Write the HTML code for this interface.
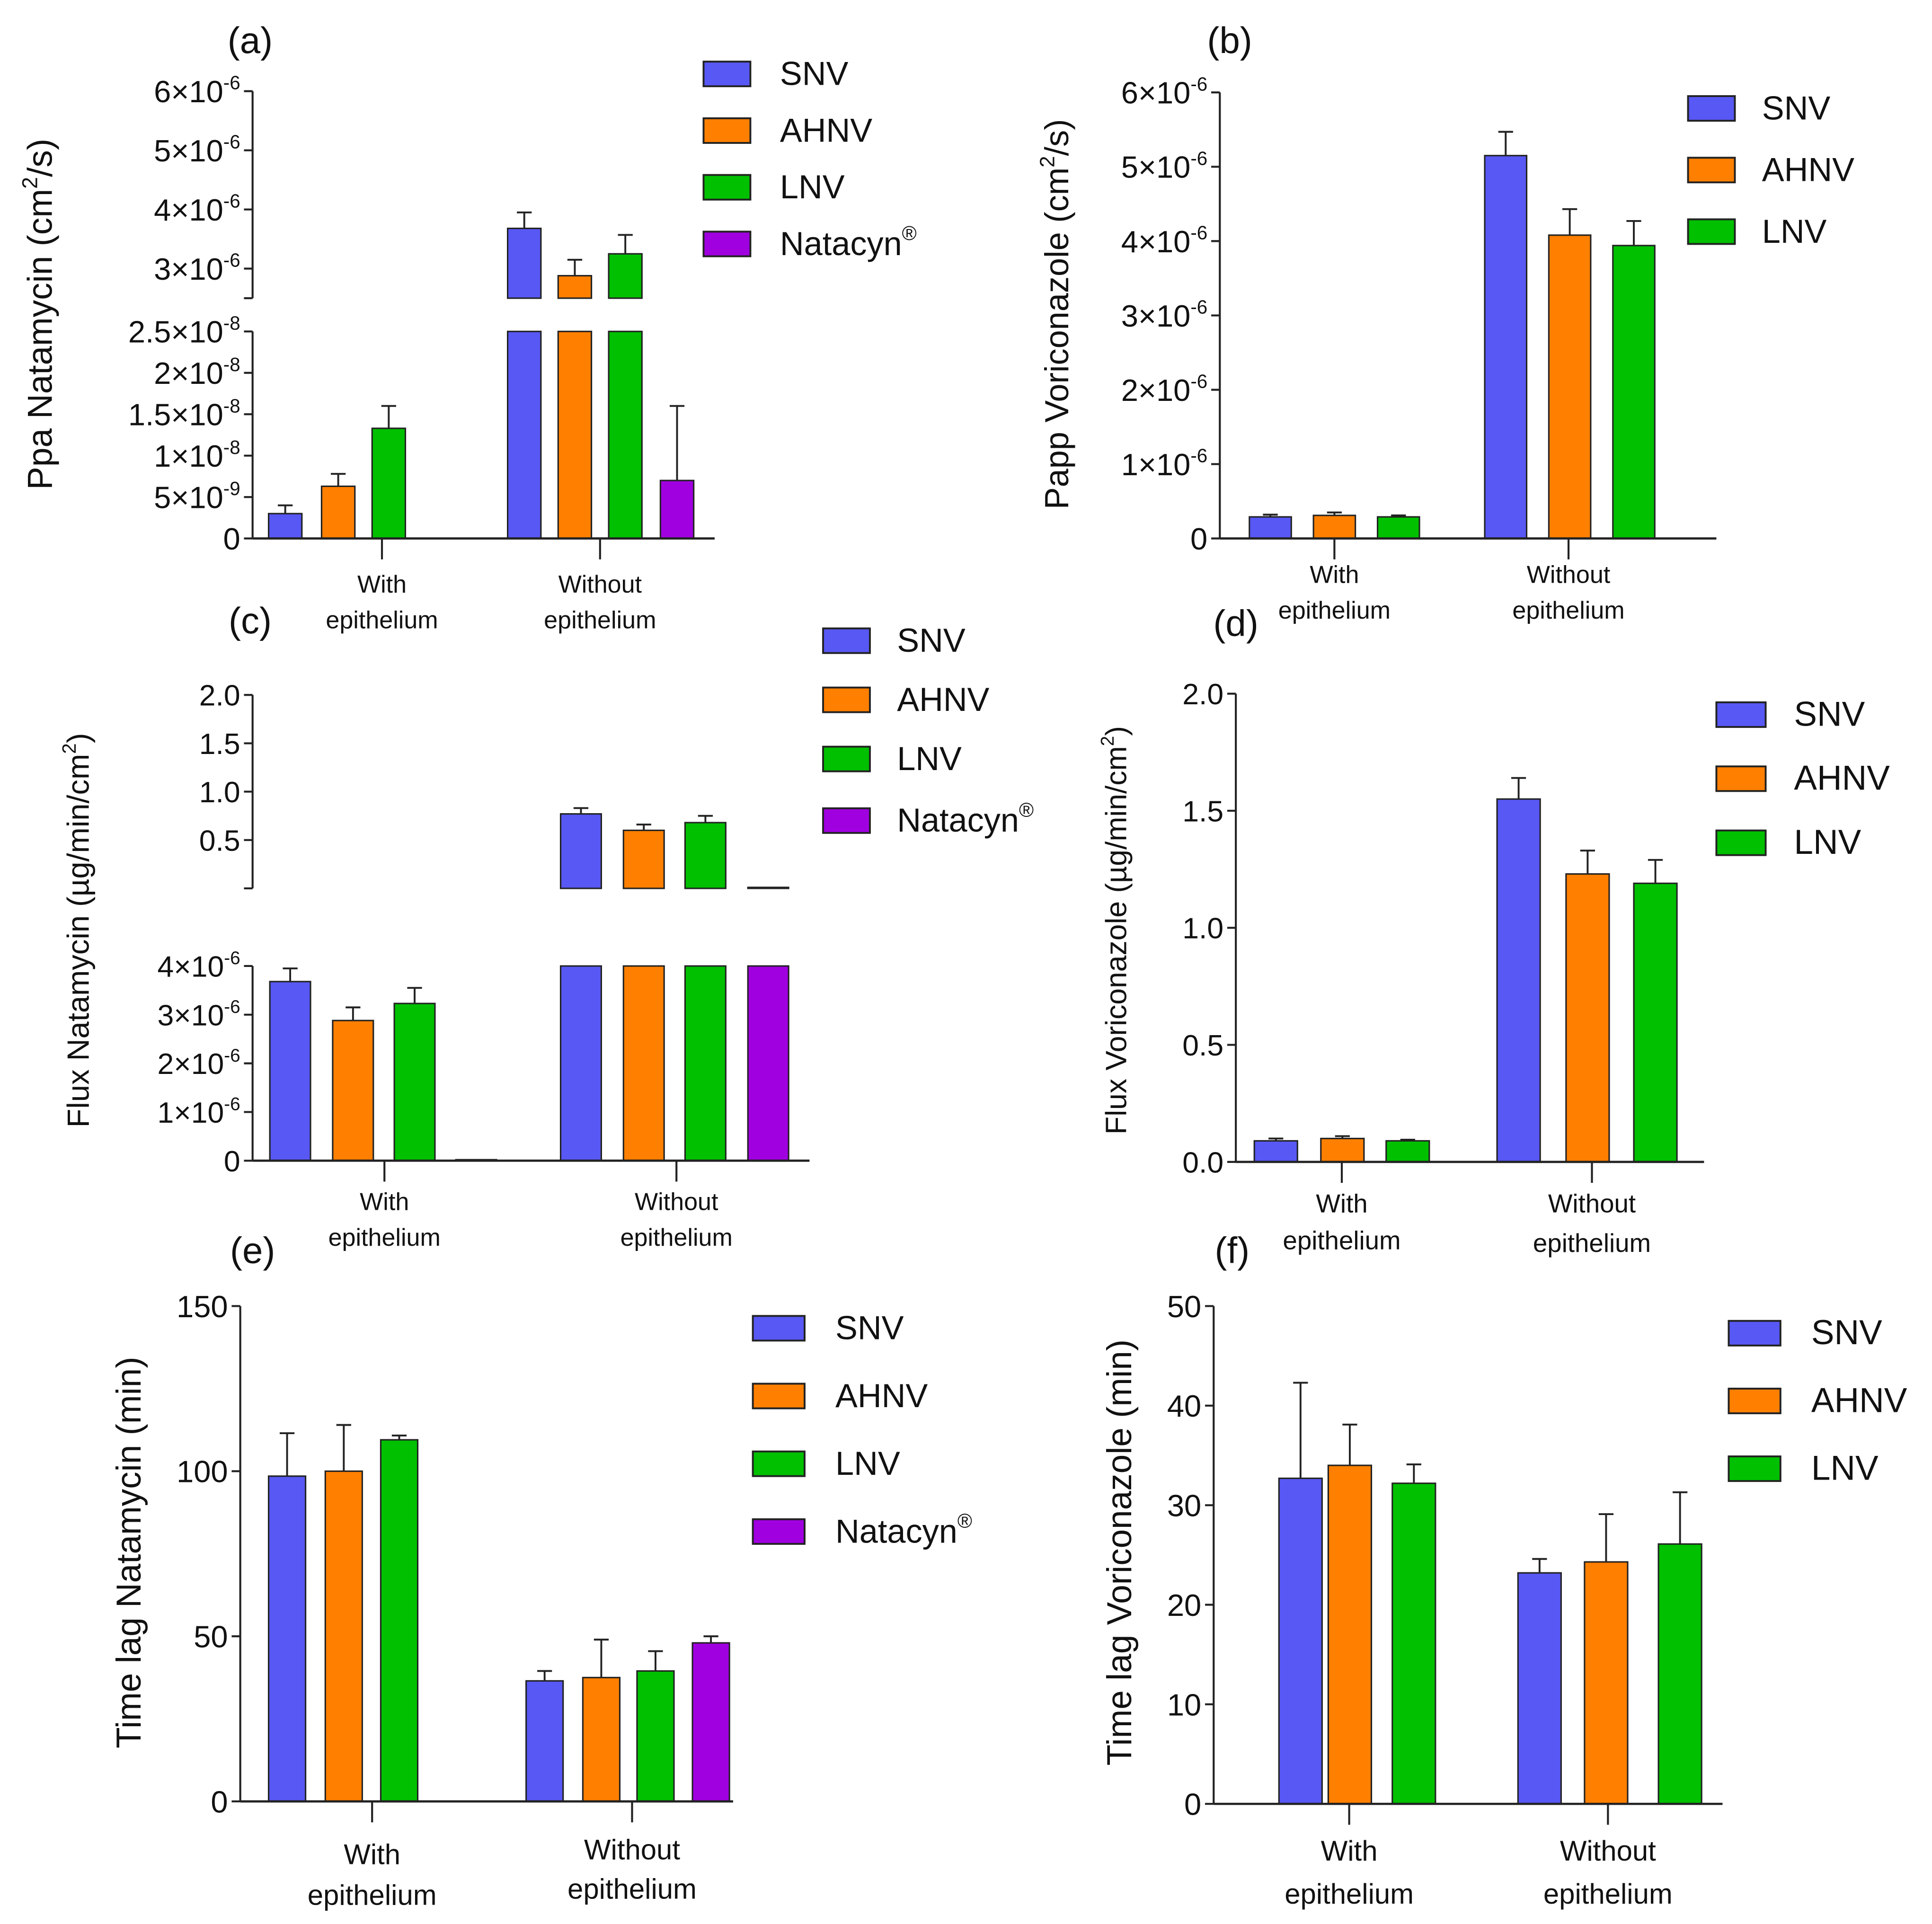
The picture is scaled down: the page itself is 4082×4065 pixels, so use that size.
<!DOCTYPE html>
<html><head><meta charset="utf-8"><style>
html,body{margin:0;padding:0;background:#fff;}
svg{display:block;}
text{font-family:"Liberation Sans",Arial,sans-serif;fill:#111;}
</style></head><body>
<svg id="fig" xmlns="http://www.w3.org/2000/svg" width="4082" height="4065" viewBox="0 0 1568 1561.5" preserveAspectRatio="none"></svg>
<script>
// ---- data ----
const groups = ["With|epithelium", "Without|epithelium"];
const seriesNames4 = ["SNV", "AHNV", "LNV", "Natacyn"];
const seriesNames3 = ["SNV", "AHNV", "LNV"];
// (a) Ppa Natamycin
const aValues = [[3e-9, 6.3e-9, 1.33e-8, null], [3.68e-6, 2.88e-6, 3.25e-6, 7e-9]];
const aErrors = [[4e-9, 7.8e-9, 1.6e-8, null], [3.95e-6, 3.15e-6, 3.57e-6, 1.6e-8]];
const aTicksUpper = [3e-6, 4e-6, 5e-6, 6e-6];
const aTickLabelsUpper = ["3×10^-6", "4×10^-6", "5×10^-6", "6×10^-6"];
const aTicksLower = [0, 5e-9, 1e-8, 1.5e-8, 2e-8, 2.5e-8];
const aTickLabelsLower = ["0", "5×10^-9", "1×10^-8", "1.5×10^-8", "2×10^-8", "2.5×10^-8"];
// (b) Papp Voriconazole
const bValues = [[0.29e-6, 0.31e-6, 0.29e-6], [5.15e-6, 4.08e-6, 3.94e-6]];
const bErrors = [[0.32e-6, 0.35e-6, 0.31e-6], [5.47e-6, 4.43e-6, 4.27e-6]];
const bTicks = [0, 1e-6, 2e-6, 3e-6, 4e-6, 5e-6, 6e-6];
const bTickLabels = ["0", "1×10^-6", "2×10^-6", "3×10^-6", "4×10^-6", "5×10^-6", "6×10^-6"];
// (c) Flux Natamycin
const cValues = [[3.68e-6, 2.88e-6, 3.23e-6, 0.02e-6], [0.77, 0.60, 0.68, 0.003]];
const cErrors = [[3.95e-6, 3.15e-6, 3.55e-6, 0], [0.83, 0.66, 0.75, 0]];
const cTicksUpper = [0.5, 1.0, 1.5, 2.0];
const cTickLabelsUpper = ["0.5", "1.0", "1.5", "2.0"];
const cTicksLower = [0, 1e-6, 2e-6, 3e-6, 4e-6];
const cTickLabelsLower = ["0", "1×10^-6", "2×10^-6", "3×10^-6", "4×10^-6"];
// (d) Flux Voriconazole
const dValues = [[0.09, 0.10, 0.09], [1.55, 1.23, 1.19]];
const dErrors = [[0.10, 0.11, 0.095], [1.64, 1.33, 1.29]];
const dTicks = [0, 0.5, 1.0, 1.5, 2.0];
const dTickLabels = ["0.0", "0.5", "1.0", "1.5", "2.0"];
// (e) Time lag Natamycin
const eValues = [[98.5, 100, 109.5, null], [36.5, 37.5, 39.5, 48]];
const eErrors = [[111.5, 114, 110.8, null], [39.5, 49, 45.5, 50]];
const eTicks = [0, 50, 100, 150];
const eTickLabels = ["0", "50", "100", "150"];
// (f) Time lag Voriconazole
const fValues = [[32.7, 34, 32.2], [23.2, 24.3, 26.1]];
const fErrors = [[42.3, 38.1, 34.1], [24.6, 29.1, 31.3]];
const fTicks = [0, 10, 20, 30, 40, 50];
const fTickLabels = ["0", "10", "20", "30", "40", "50"];

const colors = ["#5858f4", "#ff7f00", "#00c000", "#a000e0"];
const NS = "http://www.w3.org/2000/svg";
const svg = document.getElementById("fig");

function el(tag, attrs, parent) {
  const e = document.createElementNS(NS, tag);
  for (const k in attrs) e.setAttribute(k, attrs[k]);
  (parent || svg).appendChild(e);
  return e;
}
function label(str, x, y, size, anchor, parent) {
  const t = el("text", {x: x, y: y, "font-size": size, "text-anchor": anchor}, parent);
  const parts = str.split("^");
  t.appendChild(document.createTextNode(parts[0]));
  if (parts[1]) {
    const s = el("tspan", {"font-size": size * 0.62, dy: -size * 0.42}, t);
    s.textContent = parts[1];
  }
  return t;
}

function panel(cfg) {
  const g = el("g", {});
  
  
  const ax = cfg.axisX;
  const segs = cfg.segs;
  function yOf(seg, v) { return seg.yLo + (v - seg.lo) / (seg.hi - seg.lo) * (seg.yHi - seg.yLo); }
  segs.forEach(function (seg) {
    const l = el("line", {x1: ax, x2: ax, y1: seg.yLo, y2: seg.yHi, stroke: "#222", "stroke-width": 1.6}, g);
    
    
    if (seg.capBottom) el("line", {x1: ax - 7, x2: ax, y1: seg.yLo, y2: seg.yLo, stroke: "#222", "stroke-width": 1.6}, g);
    seg.ticks.forEach(function (tv, i) {
      const y = yOf(seg, tv);
      el("line", {x1: ax - 7, x2: ax, y1: y, y2: y, stroke: "#222", "stroke-width": 1.6}, g);
      const t = label(seg.labels[i], ax - 10, y + cfg.tickFont * 0.36, cfg.tickFont, "end", g);
      
      
    });
  });
  const vals = cfg.values, errs = cfg.errors;
  vals.forEach(function (row, gi) {
    row.forEach(function (v, si) {
      if (v === null || v === undefined) return;
      const x0 = cfg.barX[gi][si], w = cfg.barW;
      const segList = cfg.barSeg ? cfg.barSeg[gi] : null;
      segs.forEach(function (seg, sIdx) {
        if (segList && segList.indexOf(sIdx) < 0) return;
        if (v <= seg.lo && seg.lo !== 0) return;
        const top = Math.min(v, seg.hi);
        const y1 = yOf(seg, top), y0 = yOf(seg, seg.lo);
        const h = Math.max(y0 - y1, 0.8);
        const r = el("rect", {x: x0, y: y0 - h, width: w, height: h, fill: colors[si], stroke: "#222", "stroke-width": 1.2}, g);
        
        
      });
      const ev = errs[gi][si];
      if (ev && ev > v) {
        const seg = segs.find(function (s) { return ev >= s.lo && ev <= s.hi && v <= s.hi; });
        if (seg && v >= seg.lo) {
          const xc = x0 + w / 2;
          const e = el("line", {x1: xc, x2: xc, y1: yOf(seg, v), y2: yOf(seg, ev), stroke: "#222", "stroke-width": 1.5}, g);
          
          
          el("line", {x1: xc - 6, x2: xc + 6, y1: yOf(seg, ev), y2: yOf(seg, ev), stroke: "#222", "stroke-width": 1.5}, g);
        }
      }
    });
  });
  const xa = el("line", {x1: ax, x2: cfg.axisEnd, y1: cfg.baseY, y2: cfg.baseY, stroke: "#222", "stroke-width": 1.8}, g);
  
  
  groups.forEach(function (gname, i) {
    const x = cfg.catX[i];
    el("line", {x1: x, x2: x, y1: cfg.baseY, y2: cfg.baseY + 17, stroke: "#222", "stroke-width": 1.6}, g);
    const p = gname.split("|");
    const t1 = el("text", {x: x, y: cfg.catY[i][0], "font-size": cfg.catFont, "text-anchor": "middle"}, g);
    t1.textContent = p[0];
    
    
    const t2 = el("text", {x: x, y: cfg.catY[i][1], "font-size": cfg.catFont, "text-anchor": "middle"}, g);
    t2.textContent = p[1];
    
    
  });
  const pl = el("text", {x: cfg.letter[1], y: cfg.letter[2], "font-size": 30, "text-anchor": "middle"}, g);
  pl.textContent = cfg.letter[0];
  
  
  const yt = el("text", {x: 0, y: 0, "font-size": cfg.titleFont, "text-anchor": "middle", transform: "translate(" + cfg.title[1] + "," + cfg.title[2] + ") rotate(-90)"}, g);
  const tp = cfg.title[0].split("^");
  yt.appendChild(document.createTextNode(tp[0]));
  if (tp.length > 1) {
    const sup = el("tspan", {"font-size": cfg.titleFont * 0.62, dy: -cfg.titleFont * 0.42}, yt);
    sup.textContent = "2";
    const rest = el("tspan", {dy: cfg.titleFont * 0.42}, yt);
    rest.textContent = tp[1];
  }
  
  
  cfg.series.forEach(function (s, i) {
    const ly = cfg.legend.y[i];
    const r = el("rect", {x: cfg.legend.x, y: ly, width: cfg.legend.w, height: 20, fill: colors[i], stroke: "#222", "stroke-width": 1.5}, g);
    
    
    const t = el("text", {x: cfg.legend.tx, y: ly + 19, "font-size": cfg.legend.font}, g);
    t.textContent = s;
    if (s === "Natacyn") {
      const rr = el("tspan", {"font-size": cfg.legend.font * 0.6, dy: -cfg.legend.font * 0.45}, t);
      rr.textContent = "®";
    }
    
    
  });
}

// (a)
panel({name: "panel-a", axisX: 205, axisEnd: 580, baseY: 437, tickFont: 25, catFont: 20, titleFont: 28,
  segs: [
    {lo: 0, hi: 2.5e-8, yLo: 437, yHi: 269, ticks: aTicksLower, labels: aTickLabelsLower},
    {lo: 2.5e-6, hi: 6e-6, yLo: 242, yHi: 74, ticks: aTicksUpper, labels: aTickLabelsUpper, capBottom: true}
  ],
  values: aValues, errors: aErrors, series: seriesNames4, barW: 27,
  barX: [[218, 261, 302, 344], [412, 453, 494, 536]],
  catX: [310, 487], catY: [[481, 510], [481, 510]],
  letter: ["(a)", 203, 43], title: ["Ppa Natamycin (cm^/s)", 42, 255],
  legend: {x: 571, w: 38, y: [50, 96, 142, 188], tx: 633, font: 27}
});
// (b)
panel({name: "panel-b", axisX: 990, axisEnd: 1393, baseY: 437, tickFont: 25, catFont: 20, titleFont: 27,
  segs: [{lo: 0, hi: 6e-6, yLo: 437, yHi: 75, ticks: bTicks, labels: bTickLabels}],
  values: bValues, errors: bErrors, series: seriesNames3, barW: 34,
  barX: [[1014, 1066, 1118], [1205, 1257, 1309]],
  catX: [1083, 1273], catY: [[473, 502], [473, 502]],
  letter: ["(b)", 998, 43], title: ["Papp Voriconazole (cm^/s)", 867, 255],
  legend: {x: 1370, w: 38, y: [78, 128, 178], tx: 1430, font: 27}
});
// (c)
panel({name: "panel-c", axisX: 205, axisEnd: 657, baseY: 942, tickFont: 24, catFont: 20, titleFont: 25,
  segs: [
    {lo: 0, hi: 4e-6, yLo: 942, yHi: 784, ticks: cTicksLower, labels: cTickLabelsLower},
    {lo: 0, hi: 2.0, yLo: 721, yHi: 564, ticks: cTicksUpper, labels: cTickLabelsUpper, capBottom: true}
  ],
  barSeg: [[0], [0, 1]],
  values: cValues, errors: cErrors, series: seriesNames4, barW: 33,
  barX: [[219, 270, 320, 370], [455, 506, 556, 607]],
  catX: [312, 549], catY: [[982, 1011], [982, 1011]],
  letter: ["(c)", 203, 514], title: ["Flux Natamycin (µg/min/cm^)", 72, 755],
  legend: {x: 668, w: 38, y: [510, 558, 606, 656], tx: 728, font: 27}
});
// (d)
panel({name: "panel-d", axisX: 1003, axisEnd: 1383, baseY: 943, tickFont: 24, catFont: 21, titleFont: 24,
  segs: [{lo: 0, hi: 2.0, yLo: 943, yHi: 563, ticks: dTicks, labels: dTickLabels}],
  values: dValues, errors: dErrors, series: seriesNames3, barW: 35,
  barX: [[1018, 1072, 1125], [1215, 1271, 1326]],
  catX: [1089, 1292], catY: [[984, 1014], [984, 1016]],
  letter: ["(d)", 1003, 516], title: ["Flux Voriconazole (µg/min/cm^)", 914, 755],
  legend: {x: 1393, w: 40, y: [570, 622, 674], tx: 1456, font: 28}
});
// (e)
panel({name: "panel-e", axisX: 195, axisEnd: 595, baseY: 1462, tickFont: 25, catFont: 23, titleFont: 28,
  segs: [{lo: 0, hi: 150, yLo: 1462, yHi: 1060, ticks: eTicks, labels: eTickLabels}],
  values: eValues, errors: eErrors, series: seriesNames4, barW: 30,
  barX: [[218, 264, 309, 355], [427, 473, 517, 562]],
  catX: [302, 513], catY: [[1513, 1546], [1509, 1541]],
  letter: ["(e)", 205, 1025], title: ["Time lag Natamycin (min)", 114, 1260],
  legend: {x: 611, w: 42, y: [1068, 1123, 1178, 1233], tx: 678, font: 27}
});
// (f)
panel({name: "panel-f", axisX: 985, axisEnd: 1398, baseY: 1464, tickFont: 25, catFont: 23, titleFont: 28,
  segs: [{lo: 0, hi: 50, yLo: 1464, yHi: 1060, ticks: fTicks, labels: fTickLabels}],
  values: fValues, errors: fErrors, series: seriesNames3, barW: 35,
  barX: [[1038, 1078, 1130], [1232, 1286, 1346]],
  catX: [1095, 1305], catY: [[1510, 1545], [1510, 1545]],
  letter: ["(f)", 1000, 1025], title: ["Time lag Voriconazole (min)", 918, 1260],
  legend: {x: 1403, w: 42, y: [1072, 1127, 1182], tx: 1470, font: 28}
});
</script>
</body></html>
